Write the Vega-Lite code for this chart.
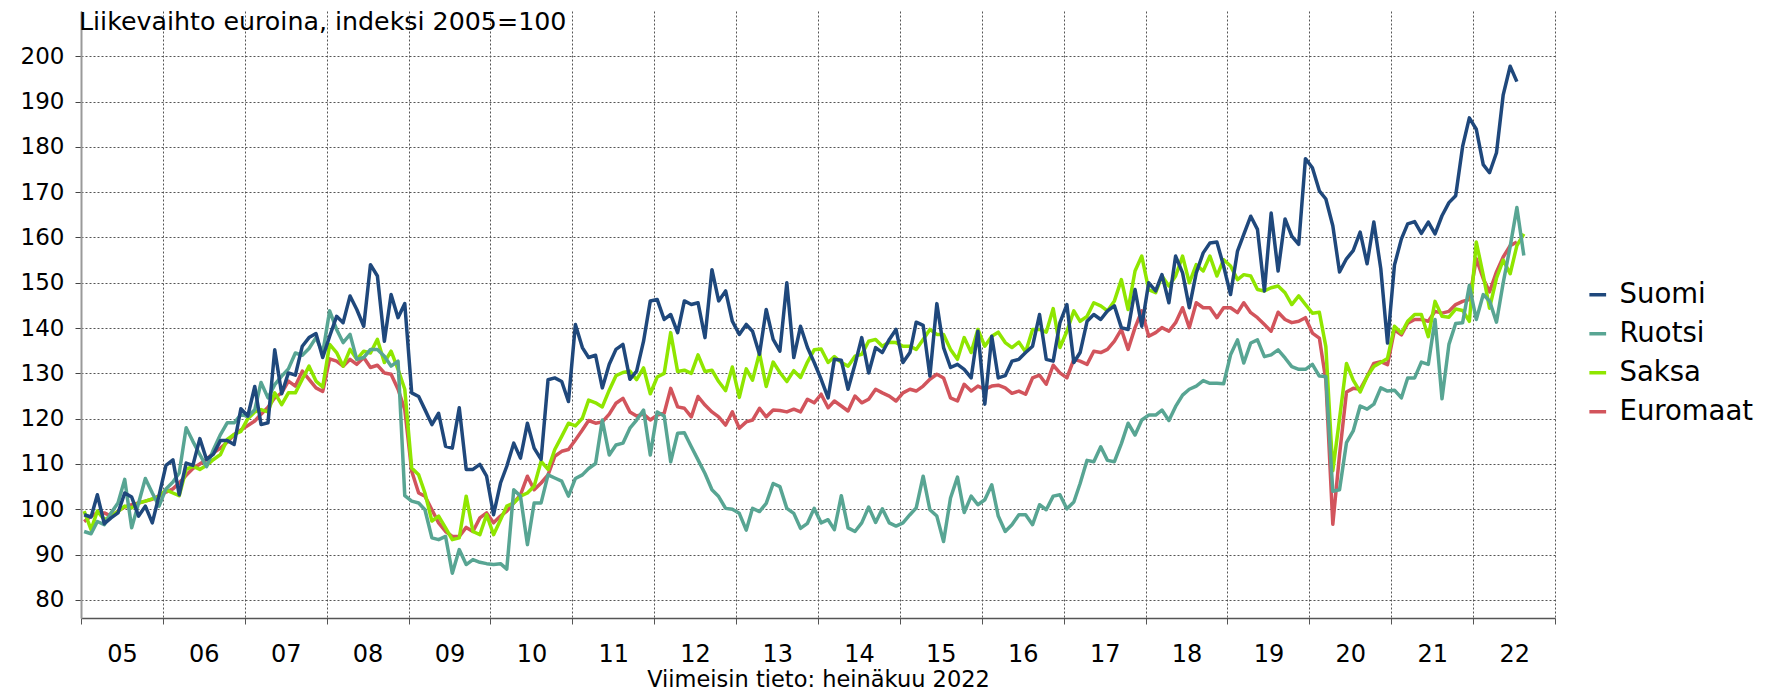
{
  "$schema": "https://vega.github.io/schema/vega-lite/v6.json",
  "width": 1474,
  "height": 607,
  "autosize": {"type": "none"},
  "padding": {"left": 81, "top": 11, "right": 214, "bottom": 75},
  "background": "white",
  "config": {"font": "DejaVu Sans", "view": {"stroke": null}},
  "title": {"text": "Liikevaihto euroina, indeksi 2005=100", "anchor": "start", "frame": "group", "orient": "top", "offset": -24, "dx": -2, "fontSize": 25.3, "fontWeight": "normal", "color": "#000"},
  "data": {"values": [
{"d":"2005-01-15","Suomi":98.8,"Ruotsi":95.1,"Saksa":99.6,"Euromaat":97.3},
{"d":"2005-02-15","Suomi":98.3,"Ruotsi":94.6,"Saksa":95.5,"Euromaat":98.5},
{"d":"2005-03-15","Suomi":103.2,"Ruotsi":97.3,"Saksa":99.6,"Euromaat":99.2},
{"d":"2005-04-15","Suomi":96.8,"Ruotsi":96.6,"Saksa":97.7,"Euromaat":99.2},
{"d":"2005-05-15","Suomi":98.1,"Ruotsi":99.2,"Saksa":98.5,"Euromaat":98.5},
{"d":"2005-06-15","Suomi":99.2,"Ruotsi":101.4,"Saksa":99.5,"Euromaat":99.6},
{"d":"2005-07-15","Suomi":103.6,"Ruotsi":106.6,"Saksa":100.7,"Euromaat":100.5},
{"d":"2005-08-15","Suomi":102.7,"Ruotsi":95.9,"Saksa":100.3,"Euromaat":101},
{"d":"2005-09-15","Suomi":98.5,"Ruotsi":101.4,"Saksa":101.4,"Euromaat":101.4},
{"d":"2005-10-15","Suomi":100.7,"Ruotsi":106.8,"Saksa":101.8,"Euromaat":101.8},
{"d":"2005-11-15","Suomi":97.0,"Ruotsi":103.6,"Saksa":102.3,"Euromaat":102.2},
{"d":"2005-12-15","Suomi":103,"Ruotsi":100.7,"Saksa":102.8,"Euromaat":103},
{"d":"2006-01-15","Suomi":109.7,"Ruotsi":104.5,"Saksa":104.3,"Euromaat":103.8},
{"d":"2006-02-15","Suomi":110.9,"Ruotsi":106,"Saksa":103.6,"Euromaat":104.5},
{"d":"2006-03-15","Suomi":103.2,"Ruotsi":108,"Saksa":103,"Euromaat":105.8},
{"d":"2006-04-15","Suomi":110.2,"Ruotsi":118,"Saksa":108.8,"Euromaat":107.5},
{"d":"2006-05-15","Suomi":109.7,"Ruotsi":115,"Saksa":109.5,"Euromaat":109},
{"d":"2006-06-15","Suomi":115.6,"Ruotsi":112.1,"Saksa":108.8,"Euromaat":110},
{"d":"2006-07-15","Suomi":111,"Ruotsi":109.4,"Saksa":109.7,"Euromaat":111},
{"d":"2006-08-15","Suomi":112.2,"Ruotsi":113.2,"Saksa":111,"Euromaat":112.5},
{"d":"2006-09-15","Suomi":115.2,"Ruotsi":116.5,"Saksa":112.1,"Euromaat":113.5},
{"d":"2006-10-15","Suomi":115.2,"Ruotsi":119.1,"Saksa":115.4,"Euromaat":114.8},
{"d":"2006-11-15","Suomi":114.3,"Ruotsi":119.1,"Saksa":116.5,"Euromaat":116.5},
{"d":"2006-12-15","Suomi":122.2,"Ruotsi":120.9,"Saksa":117.2,"Euromaat":117.5},
{"d":"2007-01-15","Suomi":120.6,"Ruotsi":120.5,"Saksa":120,"Euromaat":118.5},
{"d":"2007-02-15","Suomi":127.1,"Ruotsi":122,"Saksa":121.5,"Euromaat":119.5},
{"d":"2007-03-15","Suomi":118.7,"Ruotsi":128,"Saksa":122,"Euromaat":121},
{"d":"2007-04-15","Suomi":119.1,"Ruotsi":124.6,"Saksa":121.5,"Euromaat":122.5},
{"d":"2007-05-15","Suomi":135.2,"Ruotsi":127.5,"Saksa":125.7,"Euromaat":124.6},
{"d":"2007-06-15","Suomi":125.5,"Ruotsi":129.4,"Saksa":123.1,"Euromaat":125.7},
{"d":"2007-07-15","Suomi":130.1,"Ruotsi":131,"Saksa":125.7,"Euromaat":128.3},
{"d":"2007-08-15","Suomi":129.6,"Ruotsi":134.5,"Saksa":125.7,"Euromaat":127.2},
{"d":"2007-09-15","Suomi":136,"Ruotsi":134,"Saksa":128.7,"Euromaat":130.5},
{"d":"2007-10-15","Suomi":137.9,"Ruotsi":135.5,"Saksa":131.6,"Euromaat":128.7},
{"d":"2007-11-15","Suomi":138.8,"Ruotsi":137.9,"Saksa":128.3,"Euromaat":126.8},
{"d":"2007-12-15","Suomi":133.5,"Ruotsi":134.5,"Saksa":127,"Euromaat":126},
{"d":"2008-01-15","Suomi":138.2,"Ruotsi":143.8,"Saksa":136.4,"Euromaat":133.2},
{"d":"2008-02-15","Suomi":142.6,"Ruotsi":139.7,"Saksa":134.6,"Euromaat":132.7},
{"d":"2008-03-15","Suomi":141.2,"Ruotsi":136.8,"Saksa":131.6,"Euromaat":131.6},
{"d":"2008-04-15","Suomi":147.1,"Ruotsi":138.6,"Saksa":135.3,"Euromaat":133.1},
{"d":"2008-05-15","Suomi":144.1,"Ruotsi":133.1,"Saksa":133.1,"Euromaat":132},
{"d":"2008-06-15","Suomi":140.4,"Ruotsi":133.5,"Saksa":134.9,"Euromaat":133.5},
{"d":"2008-07-15","Suomi":154,"Ruotsi":135.3,"Saksa":134.5,"Euromaat":131.3},
{"d":"2008-08-15","Suomi":151.5,"Ruotsi":135.3,"Saksa":137.5,"Euromaat":131.8},
{"d":"2008-09-15","Suomi":137.1,"Ruotsi":133.8,"Saksa":132.4,"Euromaat":130.1},
{"d":"2008-10-15","Suomi":147.4,"Ruotsi":131.6,"Saksa":134.9,"Euromaat":129.8},
{"d":"2008-11-15","Suomi":142.3,"Ruotsi":132.7,"Saksa":130.9,"Euromaat":126.5},
{"d":"2008-12-15","Suomi":145.4,"Ruotsi":103,"Saksa":126.5,"Euromaat":122},
{"d":"2009-01-15","Suomi":125.7,"Ruotsi":101.8,"Saksa":109.1,"Euromaat":108.4},
{"d":"2009-02-15","Suomi":124.9,"Ruotsi":101.4,"Saksa":107.6,"Euromaat":103.6},
{"d":"2009-03-15","Suomi":122,"Ruotsi":99.9,"Saksa":103.6,"Euromaat":102.9},
{"d":"2009-04-15","Suomi":118.7,"Ruotsi":93.7,"Saksa":97.4,"Euromaat":99.9},
{"d":"2009-05-15","Suomi":121.2,"Ruotsi":93.3,"Saksa":98.5,"Euromaat":97},
{"d":"2009-06-15","Suomi":113.9,"Ruotsi":94,"Saksa":95.9,"Euromaat":95.1},
{"d":"2009-07-15","Suomi":113.5,"Ruotsi":85.9,"Saksa":93.3,"Euromaat":94},
{"d":"2009-08-15","Suomi":122.4,"Ruotsi":91.1,"Saksa":93.7,"Euromaat":94},
{"d":"2009-09-15","Suomi":108.8,"Ruotsi":87.8,"Saksa":102.9,"Euromaat":96},
{"d":"2009-10-15","Suomi":108.8,"Ruotsi":88.9,"Saksa":95.1,"Euromaat":95.1},
{"d":"2009-11-15","Suomi":109.9,"Ruotsi":88.3,"Saksa":94.4,"Euromaat":98.1},
{"d":"2009-12-15","Suomi":107.3,"Ruotsi":88,"Saksa":98.8,"Euromaat":99.2},
{"d":"2010-01-15","Suomi":98.8,"Ruotsi":87.8,"Saksa":94.4,"Euromaat":97},
{"d":"2010-02-15","Suomi":105.8,"Ruotsi":88,"Saksa":97.7,"Euromaat":98.5},
{"d":"2010-03-15","Suomi":109.5,"Ruotsi":86.8,"Saksa":100.7,"Euromaat":99.6},
{"d":"2010-04-15","Suomi":114.6,"Ruotsi":104.3,"Saksa":101.4,"Euromaat":101.4},
{"d":"2010-05-15","Suomi":111.3,"Ruotsi":102.9,"Saksa":102.9,"Euromaat":103.2},
{"d":"2010-06-15","Suomi":119,"Ruotsi":92.2,"Saksa":103.6,"Euromaat":107.3},
{"d":"2010-07-15","Suomi":113.5,"Ruotsi":101.4,"Saksa":105.1,"Euromaat":104.3},
{"d":"2010-08-15","Suomi":111,"Ruotsi":101.4,"Saksa":110.6,"Euromaat":105.8},
{"d":"2010-09-15","Suomi":128.6,"Ruotsi":107.6,"Saksa":108.8,"Euromaat":107.6},
{"d":"2010-10-15","Suomi":129,"Ruotsi":106.9,"Saksa":113.2,"Euromaat":111.7},
{"d":"2010-11-15","Suomi":128.2,"Ruotsi":106.2,"Saksa":116.1,"Euromaat":112.8},
{"d":"2010-12-15","Suomi":123.8,"Ruotsi":102.9,"Saksa":119,"Euromaat":113.2},
{"d":"2011-01-15","Suomi":140.8,"Ruotsi":106.8,"Saksa":118.4,"Euromaat":115.3},
{"d":"2011-02-15","Suomi":135.7,"Ruotsi":107.6,"Saksa":120.1,"Euromaat":117.5},
{"d":"2011-03-15","Suomi":133.5,"Ruotsi":109,"Saksa":124.1,"Euromaat":119.6},
{"d":"2011-04-15","Suomi":134,"Ruotsi":110.1,"Saksa":123.5,"Euromaat":119},
{"d":"2011-05-15","Suomi":126.8,"Ruotsi":119.7,"Saksa":122.6,"Euromaat":119.3},
{"d":"2011-06-15","Suomi":132,"Ruotsi":112,"Saksa":126.3,"Euromaat":121},
{"d":"2011-07-15","Suomi":135.3,"Ruotsi":114.2,"Saksa":129.5,"Euromaat":123.4},
{"d":"2011-08-15","Suomi":136.4,"Ruotsi":114.6,"Saksa":130.2,"Euromaat":124.5},
{"d":"2011-09-15","Suomi":128.7,"Ruotsi":117.9,"Saksa":130.5,"Euromaat":121.5},
{"d":"2011-10-15","Suomi":130.5,"Ruotsi":119.7,"Saksa":128.6,"Euromaat":120.6},
{"d":"2011-11-15","Suomi":137.1,"Ruotsi":121.9,"Saksa":131.2,"Euromaat":121},
{"d":"2011-12-15","Suomi":146,"Ruotsi":112,"Saksa":125.5,"Euromaat":119.7},
{"d":"2012-01-15","Suomi":146.3,"Ruotsi":121.5,"Saksa":129.2,"Euromaat":120.8},
{"d":"2012-02-15","Suomi":141.9,"Ruotsi":120.6,"Saksa":130,"Euromaat":121.2},
{"d":"2012-03-15","Suomi":143,"Ruotsi":110.5,"Saksa":139,"Euromaat":126.7},
{"d":"2012-04-15","Suomi":139,"Ruotsi":116.8,"Saksa":130.4,"Euromaat":122.6},
{"d":"2012-05-15","Suomi":146,"Ruotsi":116.9,"Saksa":130.7,"Euromaat":122.3},
{"d":"2012-06-15","Suomi":145.2,"Ruotsi":113.8,"Saksa":130,"Euromaat":120.4},
{"d":"2012-07-15","Suomi":145.6,"Ruotsi":110.9,"Saksa":134.1,"Euromaat":124.9},
{"d":"2012-08-15","Suomi":137.9,"Ruotsi":107.9,"Saksa":130.4,"Euromaat":123},
{"d":"2012-09-15","Suomi":152.9,"Ruotsi":104.3,"Saksa":130.7,"Euromaat":121.5},
{"d":"2012-10-15","Suomi":146,"Ruotsi":102.8,"Saksa":128.2,"Euromaat":120.4},
{"d":"2012-11-15","Suomi":148.2,"Ruotsi":100.2,"Saksa":126.2,"Euromaat":118.6},
{"d":"2012-12-15","Suomi":141.5,"Ruotsi":100,"Saksa":131.4,"Euromaat":121.5},
{"d":"2013-01-15","Suomi":138.6,"Ruotsi":99.1,"Saksa":124.7,"Euromaat":117.9},
{"d":"2013-02-15","Suomi":140.8,"Ruotsi":95.4,"Saksa":131,"Euromaat":119.3},
{"d":"2013-03-15","Suomi":139.3,"Ruotsi":100.2,"Saksa":128.5,"Euromaat":119.7},
{"d":"2013-04-15","Suomi":134.2,"Ruotsi":99.5,"Saksa":134.5,"Euromaat":122.3},
{"d":"2013-05-15","Suomi":144.1,"Ruotsi":101.3,"Saksa":127.1,"Euromaat":120.4},
{"d":"2013-06-15","Suomi":137.5,"Ruotsi":105.7,"Saksa":132.5,"Euromaat":121.9},
{"d":"2013-07-15","Suomi":134.9,"Ruotsi":105,"Saksa":130.2,"Euromaat":121.8},
{"d":"2013-08-15","Suomi":150,"Ruotsi":100.2,"Saksa":128.2,"Euromaat":121.5},
{"d":"2013-09-15","Suomi":133.5,"Ruotsi":99.1,"Saksa":130.6,"Euromaat":122.1},
{"d":"2013-10-15","Suomi":140.4,"Ruotsi":95.8,"Saksa":129.1,"Euromaat":121.5},
{"d":"2013-11-15","Suomi":135.7,"Ruotsi":96.9,"Saksa":132.5,"Euromaat":124.3},
{"d":"2013-12-15","Suomi":132.4,"Ruotsi":100.2,"Saksa":135.2,"Euromaat":123.5},
{"d":"2014-01-15","Suomi":128.7,"Ruotsi":97,"Saksa":135.4,"Euromaat":125.4},
{"d":"2014-02-15","Suomi":124.6,"Ruotsi":97.7,"Saksa":132.4,"Euromaat":122.4},
{"d":"2014-03-15","Suomi":133.1,"Ruotsi":95.5,"Saksa":133.7,"Euromaat":123.9},
{"d":"2014-04-15","Suomi":132.9,"Ruotsi":103,"Saksa":132.4,"Euromaat":122.8},
{"d":"2014-05-15","Suomi":126.5,"Ruotsi":95.9,"Saksa":131.6,"Euromaat":121.7},
{"d":"2014-06-15","Suomi":132,"Ruotsi":95.1,"Saksa":133.8,"Euromaat":125},
{"d":"2014-07-15","Suomi":137.9,"Ruotsi":97,"Saksa":134.2,"Euromaat":123.5},
{"d":"2014-08-15","Suomi":130.1,"Ruotsi":100.5,"Saksa":137.1,"Euromaat":124.3},
{"d":"2014-09-15","Suomi":135.7,"Ruotsi":97.1,"Saksa":137.5,"Euromaat":126.5},
{"d":"2014-10-15","Suomi":134.6,"Ruotsi":100.1,"Saksa":136,"Euromaat":125.7},
{"d":"2014-11-15","Suomi":137.5,"Ruotsi":97,"Saksa":136.9,"Euromaat":125},
{"d":"2014-12-15","Suomi":139.7,"Ruotsi":96.3,"Saksa":136.8,"Euromaat":123.9},
{"d":"2015-01-15","Suomi":132.4,"Ruotsi":97,"Saksa":136,"Euromaat":125.7},
{"d":"2015-02-15","Suomi":134.6,"Ruotsi":98.8,"Saksa":136,"Euromaat":126.5},
{"d":"2015-03-15","Suomi":141.3,"Ruotsi":100.3,"Saksa":135.3,"Euromaat":126.1},
{"d":"2015-04-15","Suomi":140.6,"Ruotsi":107.3,"Saksa":137.5,"Euromaat":127.2},
{"d":"2015-05-15","Suomi":129.4,"Ruotsi":99.9,"Saksa":139.7,"Euromaat":128.7},
{"d":"2015-06-15","Suomi":145.4,"Ruotsi":98.5,"Saksa":138.6,"Euromaat":129.8},
{"d":"2015-07-15","Suomi":135.7,"Ruotsi":92.9,"Saksa":138.6,"Euromaat":129},
{"d":"2015-08-15","Suomi":131.3,"Ruotsi":102.5,"Saksa":135.3,"Euromaat":124.6},
{"d":"2015-09-15","Suomi":132,"Ruotsi":107.1,"Saksa":133.1,"Euromaat":123.9},
{"d":"2015-10-15","Suomi":130.9,"Ruotsi":99.3,"Saksa":137.9,"Euromaat":127.6},
{"d":"2015-11-15","Suomi":129,"Ruotsi":102.9,"Saksa":134.6,"Euromaat":126.1},
{"d":"2015-12-15","Suomi":139.3,"Ruotsi":101,"Saksa":139.7,"Euromaat":127.2},
{"d":"2016-01-15","Suomi":123.2,"Ruotsi":102.1,"Saksa":136,"Euromaat":126.5},
{"d":"2016-02-15","Suomi":138.2,"Ruotsi":105.4,"Saksa":138.2,"Euromaat":127.2},
{"d":"2016-03-15","Suomi":129,"Ruotsi":98.5,"Saksa":139.1,"Euromaat":127.4},
{"d":"2016-04-15","Suomi":129.5,"Ruotsi":95.1,"Saksa":136.8,"Euromaat":126.8},
{"d":"2016-05-15","Suomi":132.7,"Ruotsi":96.6,"Saksa":135.7,"Euromaat":125.6},
{"d":"2016-06-15","Suomi":133.1,"Ruotsi":98.8,"Saksa":136.9,"Euromaat":126.1},
{"d":"2016-07-15","Suomi":134.6,"Ruotsi":98.8,"Saksa":134.7,"Euromaat":125.4},
{"d":"2016-08-15","Suomi":136,"Ruotsi":96.6,"Saksa":139.7,"Euromaat":129},
{"d":"2016-09-15","Suomi":143,"Ruotsi":101,"Saksa":139.7,"Euromaat":129.6},
{"d":"2016-10-15","Suomi":133.1,"Ruotsi":99.9,"Saksa":139.1,"Euromaat":127.6},
{"d":"2016-11-15","Suomi":132.7,"Ruotsi":102.9,"Saksa":144.3,"Euromaat":131.8},
{"d":"2016-12-15","Suomi":141.2,"Ruotsi":103.2,"Saksa":135.7,"Euromaat":130.1},
{"d":"2017-01-15","Suomi":145.2,"Ruotsi":100.1,"Saksa":139.3,"Euromaat":129},
{"d":"2017-02-15","Suomi":132.4,"Ruotsi":101.6,"Saksa":143.8,"Euromaat":133.1},
{"d":"2017-03-15","Suomi":134.6,"Ruotsi":105.7,"Saksa":141.5,"Euromaat":132.7},
{"d":"2017-04-15","Suomi":141.5,"Ruotsi":110.8,"Saksa":142.6,"Euromaat":132},
{"d":"2017-05-15","Suomi":143,"Ruotsi":110.5,"Saksa":145.6,"Euromaat":134.9},
{"d":"2017-06-15","Suomi":141.9,"Ruotsi":113.8,"Saksa":144.9,"Euromaat":134.6},
{"d":"2017-07-15","Suomi":143.8,"Ruotsi":110.8,"Saksa":143.8,"Euromaat":135.3},
{"d":"2017-08-15","Suomi":144.9,"Ruotsi":110.5,"Saksa":146,"Euromaat":137.1},
{"d":"2017-09-15","Suomi":140.1,"Ruotsi":114.5,"Saksa":150.7,"Euromaat":139.7},
{"d":"2017-10-15","Suomi":139.7,"Ruotsi":119,"Saksa":144.1,"Euromaat":135.3},
{"d":"2017-11-15","Suomi":148.5,"Ruotsi":116.4,"Saksa":152.6,"Euromaat":140.1},
{"d":"2017-12-15","Suomi":140.4,"Ruotsi":119.7,"Saksa":155.9,"Euromaat":143.8},
{"d":"2018-01-15","Suomi":150,"Ruotsi":120.8,"Saksa":148.5,"Euromaat":138.2},
{"d":"2018-02-15","Suomi":148.2,"Ruotsi":120.8,"Saksa":147.8,"Euromaat":139},
{"d":"2018-03-15","Suomi":151.8,"Ruotsi":121.9,"Saksa":151.5,"Euromaat":140.1},
{"d":"2018-04-15","Suomi":145.6,"Ruotsi":119.6,"Saksa":149.3,"Euromaat":139.3},
{"d":"2018-05-15","Suomi":155.9,"Ruotsi":122.7,"Saksa":151.5,"Euromaat":141.2},
{"d":"2018-06-15","Suomi":152.2,"Ruotsi":125.2,"Saksa":155.9,"Euromaat":144.5},
{"d":"2018-07-15","Suomi":144.5,"Ruotsi":126.5,"Saksa":150,"Euromaat":140.1},
{"d":"2018-08-15","Suomi":152.2,"Ruotsi":127.2,"Saksa":154,"Euromaat":145.6},
{"d":"2018-09-15","Suomi":156.6,"Ruotsi":128.4,"Saksa":152.6,"Euromaat":144.5},
{"d":"2018-10-15","Suomi":158.8,"Ruotsi":127.8,"Saksa":155.9,"Euromaat":144.5},
{"d":"2018-11-15","Suomi":159,"Ruotsi":127.8,"Saksa":151.5,"Euromaat":142.3},
{"d":"2018-12-15","Suomi":153.7,"Ruotsi":127.7,"Saksa":155.1,"Euromaat":144.5},
{"d":"2019-01-15","Suomi":147.4,"Ruotsi":134.1,"Saksa":153.7,"Euromaat":144.5},
{"d":"2019-02-15","Suomi":157,"Ruotsi":137.4,"Saksa":150.7,"Euromaat":143.4},
{"d":"2019-03-15","Suomi":160.7,"Ruotsi":132.3,"Saksa":151.8,"Euromaat":145.6},
{"d":"2019-04-15","Suomi":164.7,"Ruotsi":136.7,"Saksa":151.5,"Euromaat":143.4},
{"d":"2019-05-15","Suomi":161.8,"Ruotsi":137.4,"Saksa":148.5,"Euromaat":142.3},
{"d":"2019-06-15","Suomi":148.2,"Ruotsi":133.7,"Saksa":148.2,"Euromaat":140.8},
{"d":"2019-07-15","Suomi":165.4,"Ruotsi":134.1,"Saksa":148.9,"Euromaat":139.3},
{"d":"2019-08-15","Suomi":152.6,"Ruotsi":135.2,"Saksa":149.3,"Euromaat":143.5},
{"d":"2019-09-15","Suomi":164.1,"Ruotsi":133.4,"Saksa":147.8,"Euromaat":141.9},
{"d":"2019-10-15","Suomi":160.3,"Ruotsi":131.5,"Saksa":145.2,"Euromaat":141.2},
{"d":"2019-11-15","Suomi":158.5,"Ruotsi":130.9,"Saksa":147.1,"Euromaat":141.5},
{"d":"2019-12-15","Suomi":177.4,"Ruotsi":130.9,"Saksa":145.2,"Euromaat":142.3},
{"d":"2020-01-15","Suomi":175.4,"Ruotsi":132,"Saksa":143.3,"Euromaat":138.9},
{"d":"2020-02-15","Suomi":170.3,"Ruotsi":129.4,"Saksa":143.5,"Euromaat":137.8},
{"d":"2020-03-15","Suomi":168.5,"Ruotsi":129.3,"Saksa":135.9,"Euromaat":128.5},
{"d":"2020-04-15","Suomi":162.6,"Ruotsi":104,"Saksa":108.5,"Euromaat":96.7},
{"d":"2020-05-15","Suomi":152.4,"Ruotsi":104.3,"Saksa":120,"Euromaat":112},
{"d":"2020-06-15","Suomi":155.3,"Ruotsi":114.7,"Saksa":132.2,"Euromaat":125.9},
{"d":"2020-07-15","Suomi":157.1,"Ruotsi":117.3,"Saksa":128.5,"Euromaat":126.7},
{"d":"2020-08-15","Suomi":161.2,"Ruotsi":122.8,"Saksa":125.9,"Euromaat":126.5},
{"d":"2020-09-15","Suomi":154.2,"Ruotsi":122.1,"Saksa":129.3,"Euromaat":129.3},
{"d":"2020-10-15","Suomi":163.4,"Ruotsi":123.2,"Saksa":131.5,"Euromaat":132.2},
{"d":"2020-11-15","Suomi":153.1,"Ruotsi":126.8,"Saksa":132.4,"Euromaat":132.6},
{"d":"2020-12-15","Suomi":136.7,"Ruotsi":126.1,"Saksa":133.3,"Euromaat":131.9},
{"d":"2021-01-15","Suomi":153.9,"Ruotsi":126.3,"Saksa":140.4,"Euromaat":139.6},
{"d":"2021-02-15","Suomi":159.7,"Ruotsi":124.6,"Saksa":138.9,"Euromaat":138.5},
{"d":"2021-03-15","Suomi":163,"Ruotsi":129,"Saksa":141.5,"Euromaat":141.1},
{"d":"2021-04-15","Suomi":163.5,"Ruotsi":129,"Saksa":143,"Euromaat":141.9},
{"d":"2021-05-15","Suomi":160.9,"Ruotsi":132.5,"Saksa":143,"Euromaat":141.9},
{"d":"2021-06-15","Suomi":163.4,"Ruotsi":132,"Saksa":138.1,"Euromaat":141.5},
{"d":"2021-07-15","Suomi":160.8,"Ruotsi":141.9,"Saksa":145.9,"Euromaat":143.7},
{"d":"2021-08-15","Suomi":164.8,"Ruotsi":124.4,"Saksa":142.6,"Euromaat":143.3},
{"d":"2021-09-15","Suomi":167.7,"Ruotsi":136.4,"Saksa":142.4,"Euromaat":143.7},
{"d":"2021-10-15","Suomi":169.2,"Ruotsi":141,"Saksa":144.2,"Euromaat":145.2},
{"d":"2021-11-15","Suomi":180.1,"Ruotsi":141.2,"Saksa":143.9,"Euromaat":145.9},
{"d":"2021-12-15","Suomi":186.4,"Ruotsi":149.4,"Saksa":141.5,"Euromaat":146.3},
{"d":"2022-01-15","Suomi":183.9,"Ruotsi":141.9,"Saksa":159,"Euromaat":155.3},
{"d":"2022-02-15","Suomi":176.1,"Ruotsi":147.4,"Saksa":151.7,"Euromaat":150.9},
{"d":"2022-03-15","Suomi":174.3,"Ruotsi":146,"Saksa":144.4,"Euromaat":148},
{"d":"2022-04-15","Suomi":178.7,"Ruotsi":141.3,"Saksa":151,"Euromaat":152.4},
{"d":"2022-05-15","Suomi":191.5,"Ruotsi":150,"Saksa":155,"Euromaat":155.7},
{"d":"2022-06-15","Suomi":197.8,"Ruotsi":158,"Saksa":152,"Euromaat":158.2},
{"d":"2022-07-15","Suomi":194.4,"Ruotsi":166.6,"Saksa":158.2,"Euromaat":159},
{"d":"2022-08-15","Ruotsi":156,"Saksa":160.8}
  ]},
  "transform": [
    {"fold": ["Euromaat", "Saksa", "Ruotsi", "Suomi"], "as": ["sarja", "arvo"]},
    {"filter": "isValid(datum.arvo)"}
  ],
  "mark": {"type": "line", "strokeWidth": 3.5, "strokeJoin": "round"},
  "encoding": {
    "x": {
      "field": "d", "type": "temporal",
      "scale": {"domain": [{"year": 2005, "month": 1, "date": 1}, {"year": 2023, "month": 1, "date": 1}]},
      "axis": {
        "values": [{"year":2005,"month":1,"date":1},{"year":2006,"month":1,"date":1},{"year":2007,"month":1,"date":1},{"year":2008,"month":1,"date":1},{"year":2009,"month":1,"date":1},{"year":2010,"month":1,"date":1},{"year":2011,"month":1,"date":1},{"year":2012,"month":1,"date":1},{"year":2013,"month":1,"date":1},{"year":2014,"month":1,"date":1},{"year":2015,"month":1,"date":1},{"year":2016,"month":1,"date":1},{"year":2017,"month":1,"date":1},{"year":2018,"month":1,"date":1},{"year":2019,"month":1,"date":1},{"year":2020,"month":1,"date":1},{"year":2021,"month":1,"date":1},{"year":2022,"month":1,"date":1},{"year":2023,"month":1,"date":1}],
        "labelExpr": "year(datum.value) > 2022 ? '' : timeFormat(datum.value, '%y')",
        "labelOffset": 41,
        "labelFontSize": 24,
        "labelColor": "#000",
        "labelPadding": 18,
        "labelOverlap": false,
        "labelFlush": false,
        "labelBound": false,
        "labelAngle": 0,
        "tickSize": 6,
        "tickColor": "#555",
        "domainColor": "#555",
        "domainWidth": 1.5,
        "grid": true,
        "gridColor": "#555",
        "gridDash": [2, 2],
        "gridWidth": 1,
        "title": "Viimeisin tieto: heinäkuu 2022",
        "titleFontSize": 22.5,
        "titleFontWeight": "normal",
        "titleColor": "#000",
        "titlePadding": 2
      }
    },
    "y": {
      "field": "arvo", "type": "quantitative",
      "scale": {"domain": [76, 210], "nice": false, "zero": false},
      "axis": {
        "values": [80, 90, 100, 110, 120, 130, 140, 150, 160, 170, 180, 190, 200],
        "labelFontSize": 23,
        "labelColor": "#000",
        "labelPadding": 11,
        "tickSize": 6,
        "tickColor": "#444",
        "domainColor": "#999",
        "domainWidth": 2,
        "grid": true,
        "gridColor": "#555",
        "gridDash": [2, 2],
        "gridWidth": 1,
        "title": null
      }
    },
    "color": {
      "field": "sarja", "type": "nominal",
      "scale": {"domain": ["Suomi", "Ruotsi", "Saksa", "Euromaat"], "range": ["#1f487c", "#58a593", "#8fe600", "#d2545c"]},
      "legend": {
        "orient": "none",
        "legendX": 1503,
        "legendY": 270,
        "title": null,
        "symbolType": "stroke",
        "symbolStrokeWidth": 3.5,
        "symbolSize": 280,
        "labelFontSize": 27.5,
        "labelColor": "#000",
        "labelOffset": 8,
        "rowPadding": 10
      }
    }
  }
}
